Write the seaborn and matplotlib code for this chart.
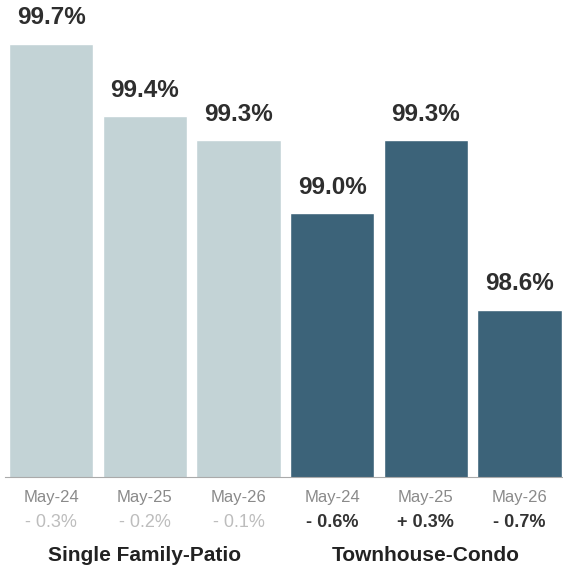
import pandas as pd
import matplotlib.pyplot as plt
import seaborn as sns

groups = ['Single Family-Patio', 'Single Family-Patio', 'Single Family-Patio',
          'Townhouse-Condo', 'Townhouse-Condo', 'Townhouse-Condo']
months = ['May-24', 'May-25', 'May-26', 'May-24', 'May-25', 'May-26']
values = [99.7, 99.4, 99.3, 99.0, 99.3, 98.6]
changes = ['- 0.3%', '- 0.2%', '- 0.1%', '- 0.6%', '+ 0.3%', '- 0.7%']
group_names = ['Single Family-Patio', 'Townhouse-Condo']
colors = {'Single Family-Patio': '#c3d3d6', 'Townhouse-Condo': '#3c6379'}

data = pd.DataFrame({
    'key': [g + ' ' + m for g, m in zip(groups, months)],
    'group': groups,
    'value': values,
})

sns.set_style('white')
plt.rcParams['font.family'] = ['Liberation Sans', 'DejaVu Sans']

fig = plt.figure(figsize=(5.63, 5.66), dpi=100)
ax = fig.add_axes([0.008, 0.157, 0.998, 0.843])

sns.barplot(data=data, x='key', y='value', hue='group', palette=colors,
            dodge=False, width=0.9, saturation=1, legend=False, ax=ax)

ax.set_ylim(97.91, 99.88)
ax.set_xlim(-0.5, 5.5)

for i, v in enumerate(values):
    ax.text(i, v + 0.06, f'{v:.1f}%', ha='center', va='bottom',
            fontsize=17.5, fontweight='bold', color='#2e2e2e')

ax.set_xticks(range(6))
ax.set_xticklabels(months, fontsize=12, color='#8a8a8a')
ax.tick_params(axis='x', length=0, pad=9)
ax.set_xticks([-0.5, 2.5], minor=True)
ax.tick_params(axis='x', which='minor', length=5, color='#999999', width=0.8)
ax.set_yticks([])
ax.set_xlabel('')
ax.set_ylabel('')

for s in ['top', 'left', 'right']:
    ax.spines[s].set_visible(False)
ax.spines['bottom'].set_color('#aaaaaa')
ax.spines['bottom'].set_linewidth(0.8)

trans = ax.get_xaxis_transform()
for i, c in enumerate(changes):
    if i < 3:
        ax.text(i, -0.095, c, transform=trans, ha='center', va='center',
                fontsize=13, color='#bdbdbd')
    else:
        ax.text(i, -0.095, c, transform=trans, ha='center', va='center',
                fontsize=13, fontweight='bold', color='#333333')

for j, g in enumerate(group_names):
    ax.text(1 + 3 * j, -0.165, g, transform=trans, ha='center', va='center',
            fontsize=15, fontweight='bold', color='#222222')

fig.savefig('out.png', dpi=100)
